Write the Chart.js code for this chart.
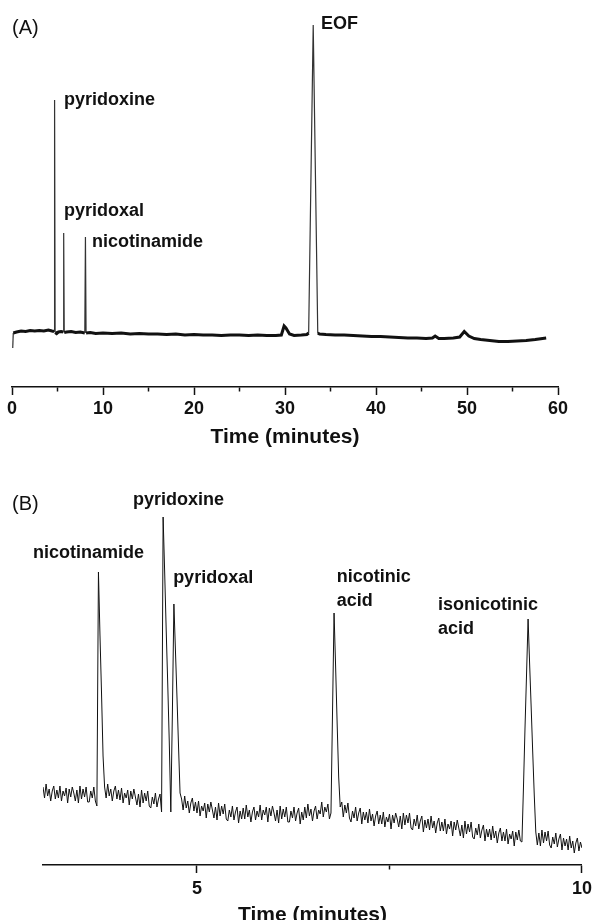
<!DOCTYPE html>
<html>
<head>
<meta charset="utf-8">
<script src="https://cdn.jsdelivr.net/npm/chart.js@4.4.1/dist/chart.umd.min.js"></script>
<style>
  html, body { margin: 0; padding: 0; background: #fff; width: 597px; height: 920px; overflow: hidden; }
  .panel { position: absolute; left: 0; width: 597px; }
  #wrapA { top: 0; height: 450px; }
  #wrapB { top: 460px; height: 480px; }
  .tag { position: absolute; left: 12px; font: 20px/20px "Liberation Sans", Arial, sans-serif; color: #111; }
</style>
</head>
<body>
<div class="panel" id="wrapA"><canvas id="chartA" width="597" height="450"></canvas></div>
<div class="panel" id="wrapB"><canvas id="chartB" width="597" height="480"></canvas></div>
<div class="tag" style="top:17px">(A)</div>
<div class="tag" style="top:493px">(B)</div>

<script>
// ---- Panel A : full run, 0 - 60 min (signal in arbitrary units) ----
const timeA = [0.08, 0.14, 0.5, 1.0, 1.5, 2.0, 2.5, 3.0, 3.5, 4.0, 4.4, 4.62, 4.68, 4.74, 4.9, 5.1, 5.4, 5.62, 5.68, 5.74,
  6.0, 6.5, 7.0, 7.5, 8.0, 8.07, 8.14, 8.6, 9.2, 10, 11, 12, 13, 14, 15, 16, 17, 18, 19, 20,
  21, 22, 23, 24, 25, 26, 27, 28, 29, 29.6, 29.9, 30.1, 30.5, 31.0, 31.8, 32.4, 32.6, 33.1, 33.6, 33.8,
  34.5, 35.5, 36.5, 37.5, 38.5, 39.5, 40.5, 41.5, 42.5, 43.5, 44.5, 45.5, 46.2, 46.5, 46.9, 47.5, 48.5, 49.2, 49.7, 50.2,
  50.8, 51.5, 52.5, 53.5, 54.5, 55.5, 56.5, 57.5, 58.7];
const signalA = [3.9, 5.4, 5.5, 5.6, 5.55, 5.65, 5.6, 5.65, 5.6, 5.7, 5.6, 5.55, 28.7, 5.45, 5.35, 5.5, 5.55, 5.5, 15.4, 5.45,
  5.5, 5.55, 5.45, 5.5, 5.4, 15.0, 5.4, 5.45, 5.35, 5.4, 5.35, 5.4, 5.3, 5.35, 5.3, 5.3, 5.25, 5.3, 5.2, 5.25,
  5.2, 5.2, 5.15, 5.2, 5.2, 5.15, 5.2, 5.15, 5.15, 5.2, 6.1, 5.9, 5.3, 5.15, 5.2, 5.25, 5.4, 36.2, 5.4, 5.3,
  5.25, 5.2, 5.2, 5.15, 5.1, 5.05, 5.05, 5.0, 4.95, 4.9, 4.9, 4.85, 4.9, 5.1, 4.85, 4.85, 4.9, 5.0, 5.55, 5.1,
  4.85, 4.75, 4.65, 4.55, 4.55, 4.6, 4.65, 4.75, 4.9];
const ticksA = [0, 5, 10, 15, 20, 25, 30, 35, 40, 45, 50, 55, 60];
const tickLabelsA = [0, 10, 20, 30, 40, 50, 60];
const peakNamesA = [['pyridoxine'], ['pyridoxal'], ['nicotinamide'], ['EOF']];
const peakLabelTimeA = [5.71, 5.71, 8.79, 33.96];
const peakLabelSignalA = [28.7, 17.6, 14.5, 36.3];

// ---- Panel B : zoom 3 - 10 min, detector samples every 0.02 min ----
const sampleStartB = 3.0;
const sampleStepB = 0.02;
const signalB = [
  7.8, 6.7, 8.1, 6.9, 7.6, 6.4, 7.4, 7.9, 6.6, 7.5,   // 3.00
  6.7, 7.9, 6.4, 7.4, 6.9, 7.7, 6.2, 7.6, 6.8, 7.8,   // 3.20
  7.2, 6.4, 7.5, 6.2, 7.9, 6.6, 7.6, 6.8, 7.8, 6.3,   // 3.40
  6.3, 7.4, 6.7, 7.8, 6.4, 5.9, 29.3, 23.0, 17.2, 10.9, // 3.60 nicotinamide
  7.8, 6.7, 8.1, 6.9, 7.6, 6.4, 7.4, 7.9, 6.6, 7.5,   // 3.80
  6.5, 7.7, 6.2, 7.2, 6.7, 7.5, 6.0, 7.4, 6.6, 7.6,   // 4.00
  6.8, 6.0, 7.1, 5.8, 7.5, 6.2, 7.2, 6.4, 7.4, 5.9,   // 4.20
  5.7, 6.8, 6.1, 7.2, 5.8, 6.6, 7.1, 5.3, 34.8, 29.3, // 4.40 pyridoxine
  23.5, 18.1, 12.3, 5.3, 15.0, 26.1, 21.5, 16.8, 11.9, 7.2, // 4.60 pyridoxal
  6.6, 5.5, 6.9, 5.7, 6.4, 5.2, 6.2, 6.7, 5.4, 6.3,   // 4.80
  5.2, 6.4, 4.9, 5.9, 5.4, 6.2, 4.7, 6.1, 5.3, 6.3,   // 5.00
  5.5, 4.7, 5.8, 4.5, 6.2, 4.9, 5.9, 5.1, 6.1, 4.6,   // 5.20
  4.4, 5.5, 4.8, 5.9, 4.5, 5.3, 5.8, 4.2, 5.4, 4.6,   // 5.40
  5.7, 4.6, 6.0, 4.8, 5.5, 4.3, 5.3, 5.8, 4.5, 5.4,   // 5.60
  4.8, 6.0, 4.5, 5.5, 5.0, 5.8, 4.3, 5.7, 4.9, 5.9,   // 5.80
  5.2, 4.4, 5.5, 4.2, 5.9, 4.6, 5.6, 4.8, 5.8, 4.3,   // 6.00
  4.3, 5.4, 4.7, 5.8, 4.4, 5.2, 5.7, 4.1, 5.3, 4.5,   // 6.20
  5.8, 4.7, 6.1, 4.9, 5.6, 4.4, 5.4, 5.9, 4.6, 5.5,   // 6.40
  5.1, 6.3, 4.8, 5.8, 5.3, 6.1, 4.6, 5.2, 15.2, 25.2, // 6.60 nicotinic acid
  19.9, 14.2, 8.8, 5.8, 6.3, 4.8, 6.0, 5.2, 6.2, 4.7, // 6.80
  4.3, 5.4, 4.7, 5.8, 4.4, 5.2, 5.7, 4.1, 5.3, 4.5,   // 7.00
  5.3, 4.2, 5.6, 4.4, 5.1, 3.9, 4.9, 5.4, 4.1, 5.0,   // 7.20
  4.1, 5.3, 3.8, 4.8, 4.3, 5.1, 3.6, 5.0, 4.2, 5.2,   // 7.40
  4.6, 3.8, 4.9, 3.6, 5.2, 4.0, 5.0, 4.2, 5.2, 3.7,   // 7.60
  3.5, 4.6, 3.9, 5.0, 3.6, 4.4, 4.9, 3.3, 4.5, 3.7,   // 7.80
  4.6, 3.5, 4.9, 3.7, 4.4, 3.2, 4.2, 4.7, 3.4, 4.3,   // 8.00
  3.4, 4.6, 3.1, 4.1, 3.6, 4.4, 2.9, 4.3, 3.5, 4.5,   // 8.20
  3.7, 2.9, 4.0, 2.7, 4.4, 3.1, 4.1, 3.3, 4.3, 2.8,   // 8.40
  2.6, 3.7, 3.0, 4.1, 2.7, 3.5, 4.0, 2.4, 3.6, 2.8,   // 8.60
  3.6, 2.5, 3.9, 2.7, 3.4, 2.2, 3.2, 3.7, 2.4, 3.3,   // 8.80
  2.4, 3.6, 2.1, 3.1, 2.6, 3.4, 1.9, 3.3, 2.5, 3.5,   // 9.00
  2.4, 2.3, 7.8, 13.7, 19.1, 24.6, 20.1, 15.8, 11.3, 7.0, // 9.20 isonicotinic acid
  3.3, 2.0, 3.2, 1.9, 3.5, 2.2, 3.3, 2.4, 3.4, 2.0,   // 9.40
  1.7, 2.8, 2.1, 3.2, 1.8, 2.6, 3.1, 1.5, 2.7, 1.9,   // 9.60
  2.6, 1.5, 2.9, 1.7, 2.4, 1.2, 2.2, 2.7, 1.4, 2.3,   // 9.80
  1.7                                                  // 10.00
];
const ticksB = [5, 7.5, 10];
const tickLabelsB = [5, 10];
const peakNamesB = [['nicotinamide'], ['pyridoxine'], ['pyridoxal'], ['nicotinic', 'acid'], ['isonicotinic', 'acid']];
const peakLabelTimeB = [2.87, 4.17, 4.69, 6.815, 8.13];
const peakLabelSignalB = [31.2, 36.5, 28.7, 28.8, 26.0];

const FONT = '"Liberation Sans", Arial, Helvetica, sans-serif';
Chart.defaults.font.family = FONT;
Chart.defaults.color = '#111';

function labelPlugin(names, times, signals) {
  return {
    id: 'peakLabels',
    afterDraw(chart) {
      const { ctx, scales } = chart;
      ctx.save();
      ctx.font = 'bold 18px ' + FONT;
      ctx.fillStyle = '#111';
      ctx.textAlign = 'left';
      ctx.textBaseline = 'middle';
      names.forEach((lines, i) => {
        const px = scales.x.getPixelForValue(times[i]);
        const py = scales.y.getPixelForValue(signals[i]);
        lines.forEach((line, j) => ctx.fillText(line, px, py + j * 24));
      });
      ctx.restore();
    }
  };
}

function xAxis(min, max, tickValues, labelled, height, tickPad, titlePad) {
  return {
    type: 'linear',
    position: 'bottom',
    min: min,
    max: max,
    bounds: 'data',
    afterBuildTicks: scale => { scale.ticks = tickValues.map(v => ({ value: v })); },
    afterFit: scale => { scale.height = height; },
    border: { display: true, color: '#111', width: 1.5 },
    grid: {
      drawOnChartArea: false,
      drawTicks: true,
      tickLength: 8,
      tickWidth: 1.5,
      tickColor: '#111',
      tickBorderDash: ctx => (ctx.tick && labelled.includes(ctx.tick.value)) ? [] : [4, 20]
    },
    ticks: {
      autoSkip: false,
      maxRotation: 0,
      padding: tickPad,
      color: '#111',
      font: { size: 18, weight: 'bold' },
      callback: v => labelled.includes(v) ? String(v) : ''
    },
    title: {
      display: true,
      text: 'Time (minutes)',
      color: '#111',
      font: { size: 21, weight: 'bold' },
      padding: { top: 0, bottom: titlePad }
    }
  };
}

// steep parts of the trace (the sharp peaks) come out thinner, like the scan
const steep = ctx => Math.abs(ctx.p1.y - ctx.p0.y) > 4 * Math.abs(ctx.p1.x - ctx.p0.x) + 6;

new Chart(document.getElementById('chartA'), {
  type: 'line',
  data: {
    datasets: [{
      data: timeA.map((t, i) => ({ x: t, y: signalA[i] })),
      borderColor: '#111',
      borderWidth: 3,
      pointRadius: 0,
      tension: 0,
      segment: {
        borderWidth: ctx => steep(ctx) ? 1.2 : 3,
        borderColor: ctx => steep(ctx) ? '#333' : '#111'
      }
    }]
  },
  options: {
    responsive: false,
    animation: false,
    layout: { padding: { left: 12, right: 39, top: 10, bottom: 0 } },
    plugins: { legend: { display: false }, tooltip: { enabled: false } },
    scales: {
      x: xAxis(0, 60, ticksA, tickLabelsA, 63, 3, 0),
      y: { display: false, min: 0, max: 37.7, bounds: 'data' }
    }
  },
  plugins: [labelPlugin(peakNamesA, peakLabelTimeA, peakLabelSignalA)]
});

new Chart(document.getElementById('chartB'), {
  type: 'line',
  data: {
    datasets: [{
      data: signalB.map((v, i) => ({ x: Number((sampleStartB + i * sampleStepB).toFixed(2)), y: v })),
      borderColor: '#111',
      borderWidth: 1,
      pointRadius: 0,
      tension: 0
    }]
  },
  options: {
    responsive: false,
    animation: false,
    layout: { padding: { left: 43, right: 14, top: 35, bottom: 0 } },
    plugins: { legend: { display: false }, tooltip: { enabled: false } },
    scales: {
      x: xAxis(3, 10, ticksB, tickLabelsB, 75, 5, 12),
      y: { display: false, min: 0, max: 37.0, bounds: 'data' }
    }
  },
  plugins: [labelPlugin(peakNamesB, peakLabelTimeB, peakLabelSignalB)]
});
</script>
</body>
</html>
